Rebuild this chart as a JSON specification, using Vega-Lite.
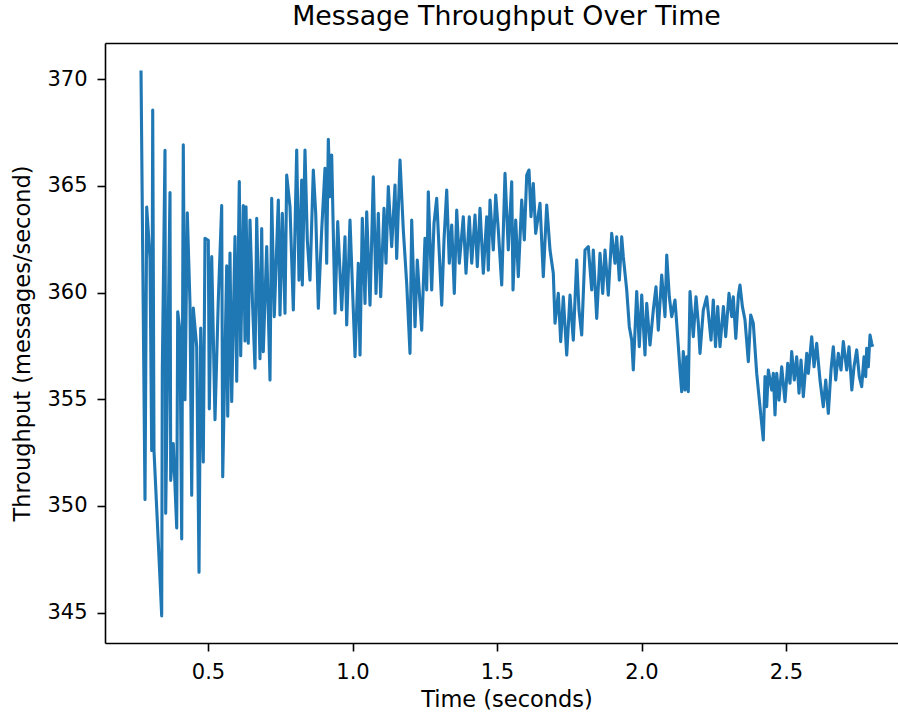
{
  "$schema": "https://vega.github.io/schema/vega-lite/v6.json",
  "width": 793,
  "height": 600,
  "autosize": {"type": "none"},
  "padding": {"left": 105, "top": 43, "right": 0, "bottom": 71},
  "background": "white",
  "config": {"view": {"stroke": null}, "font": "DejaVu Sans"},
  "title": {"text": "Message Throughput Over Time", "fontSize": 26.8, "font": "DejaVu Sans", "fontWeight": "normal", "color": "#000000", "baseline": "alphabetic", "offset": -9, "dx": 5},
  "data": {"values": [
    {"t":0.2682,"v":370.4},{"t":0.2820,"v":350.3},{"t":0.2879,"v":364.0},{"t":0.2993,"v":361.6},{"t":0.3052,"v":352.6},
    {"t":0.3087,"v":368.55},{"t":0.3131,"v":352.6},{"t":0.3280,"v":348.3},{"t":0.3398,"v":344.85},{"t":0.3419,"v":356.35},
    {"t":0.3512,"v":366.66},{"t":0.3536,"v":349.66},{"t":0.3685,"v":364.68},{"t":0.3709,"v":351.2},{"t":0.3799,"v":352.92},
    {"t":0.3917,"v":348.97},{"t":0.3952,"v":359.1},{"t":0.4031,"v":358.16},{"t":0.4090,"v":348.46},{"t":0.4145,"v":366.92},
    {"t":0.4204,"v":354.98},{"t":0.4284,"v":363.74},{"t":0.4377,"v":359.45},{"t":0.4436,"v":350.5},{"t":0.4491,"v":359.27},
    {"t":0.4609,"v":357.47},{"t":0.4689,"v":346.9},{"t":0.4747,"v":358.33},{"t":0.4837,"v":352.06},{"t":0.4896,"v":362.54},
    {"t":0.5010,"v":362.45},{"t":0.5045,"v":354.55},{"t":0.5128,"v":361.68},{"t":0.5242,"v":354.04},{"t":0.5356,"v":359.62},
    {"t":0.5474,"v":364.08},{"t":0.5509,"v":351.37},{"t":0.5647,"v":361.25},{"t":0.5682,"v":354.21},{"t":0.5761,"v":361.85},
    {"t":0.5820,"v":354.9},{"t":0.5934,"v":362.62},{"t":0.5993,"v":355.84},{"t":0.6083,"v":365.2},{"t":0.6131,"v":357.04},
    {"t":0.6221,"v":364.08},{"t":0.6280,"v":357.73},{"t":0.6315,"v":364.02},{"t":0.6394,"v":357.62},{"t":0.6453,"v":363.4},
    {"t":0.6540,"v":359.5},{"t":0.6626,"v":356.45},{"t":0.6685,"v":363.48},{"t":0.6747,"v":360.0},{"t":0.6799,"v":356.9},
    {"t":0.6858,"v":363.0},{"t":0.6913,"v":357.23},{"t":0.7031,"v":362.15},{"t":0.7145,"v":355.9},{"t":0.7204,"v":364.41},
    {"t":0.7294,"v":358.87},{"t":0.7433,"v":364.33},{"t":0.7491,"v":358.95},{"t":0.7571,"v":363.71},{"t":0.7664,"v":359.03},
    {"t":0.7723,"v":365.5},{"t":0.7837,"v":364.02},{"t":0.7952,"v":359.18},{"t":0.8069,"v":366.67},{"t":0.8149,"v":360.58},
    {"t":0.8242,"v":365.27},{"t":0.8263,"v":360.35},{"t":0.8356,"v":366.67},{"t":0.8436,"v":362.46},{"t":0.8529,"v":360.58},
    {"t":0.8644,"v":365.74},{"t":0.8727,"v":363.71},{"t":0.8817,"v":359.26},{"t":0.8934,"v":362.93},{"t":0.9048,"v":365.82},
    {"t":0.9107,"v":361.37},{"t":0.9163,"v":367.18},{"t":0.9221,"v":364.49},{"t":0.9280,"v":366.44},{"t":0.9394,"v":359.03},
    {"t":0.9488,"v":363.32},{"t":0.9626,"v":359.18},{"t":0.9740,"v":362.61},{"t":0.9799,"v":358.48},{"t":0.9913,"v":363.4},
    {"t":1.0087,"v":356.99},{"t":1.0201,"v":361.37},{"t":1.0260,"v":357.07},{"t":1.0339,"v":363.48},{"t":1.0433,"v":359.49},
    {"t":1.0491,"v":363.78},{"t":1.0606,"v":359.41},{"t":1.0720,"v":365.42},{"t":1.0813,"v":359.96},{"t":1.0893,"v":363.71},
    {"t":1.0976,"v":359.8},{"t":1.1090,"v":363.94},{"t":1.1159,"v":361.37},{"t":1.1239,"v":364.96},{"t":1.1356,"v":362.15},
    {"t":1.1471,"v":365.03},{"t":1.1529,"v":361.6},{"t":1.1644,"v":366.21},{"t":1.1758,"v":362.93},{"t":1.1875,"v":360.43},
    {"t":1.1990,"v":357.15},{"t":1.2048,"v":363.4},{"t":1.2163,"v":358.4},{"t":1.2242,"v":361.52},{"t":1.2394,"v":358.24},
    {"t":1.2509,"v":362.54},{"t":1.2567,"v":360.12},{"t":1.2623,"v":364.72},{"t":1.2740,"v":360.12},{"t":1.2820,"v":363.24},
    {"t":1.2913,"v":364.41},{"t":1.3087,"v":359.41},{"t":1.3166,"v":362.46},{"t":1.3260,"v":364.8},{"t":1.3349,"v":361.37},
    {"t":1.3433,"v":363.16},{"t":1.3522,"v":359.96},{"t":1.3606,"v":363.86},{"t":1.3696,"v":361.37},{"t":1.3834,"v":363.55},
    {"t":1.3927,"v":360.9},{"t":1.4042,"v":363.55},{"t":1.4125,"v":361.37},{"t":1.4239,"v":363.63},{"t":1.4318,"v":361.21},
    {"t":1.4412,"v":363.94},{"t":1.4526,"v":360.9},{"t":1.4644,"v":363.55},{"t":1.4699,"v":361.05},{"t":1.4758,"v":364.33},
    {"t":1.4872,"v":361.99},{"t":1.4955,"v":364.57},{"t":1.5045,"v":362.93},{"t":1.5163,"v":360.35},{"t":1.5277,"v":365.58},
    {"t":1.5391,"v":361.99},{"t":1.5509,"v":365.19},{"t":1.5554,"v":360.12},{"t":1.5647,"v":363.4},{"t":1.5737,"v":360.74},
    {"t":1.5855,"v":364.33},{"t":1.5945,"v":362.46},{"t":1.6028,"v":365.5},{"t":1.6107,"v":365.74},{"t":1.6176,"v":363.55},
    {"t":1.6256,"v":365.11},{"t":1.6339,"v":362.77},{"t":1.6488,"v":364.18},{"t":1.6602,"v":360.74},{"t":1.6720,"v":364.1},
    {"t":1.6834,"v":361.99},{"t":1.6948,"v":360.9},{"t":1.7007,"v":358.56},{"t":1.7121,"v":359.96},{"t":1.7204,"v":357.7},
    {"t":1.7294,"v":359.8},{"t":1.7412,"v":357.07},{"t":1.7526,"v":359.88},{"t":1.7640,"v":357.77},{"t":1.7758,"v":361.52},
    {"t":1.7837,"v":359.18},{"t":1.7931,"v":358.01},{"t":1.8045,"v":361.99},{"t":1.8159,"v":362.15},{"t":1.8277,"v":360.12},
    {"t":1.8332,"v":361.99},{"t":1.8450,"v":358.79},{"t":1.8564,"v":361.84},{"t":1.8657,"v":359.96},{"t":1.8737,"v":361.99},
    {"t":1.8851,"v":359.88},{"t":1.8969,"v":362.77},{"t":1.9083,"v":361.37},{"t":1.9142,"v":362.61},{"t":1.9232,"v":360.58},
    {"t":1.9315,"v":362.61},{"t":1.9370,"v":361.68},{"t":1.9488,"v":360.12},{"t":1.9578,"v":358.4},{"t":1.9661,"v":357.77},
    {"t":1.9716,"v":356.37},{"t":1.9834,"v":360.04},{"t":1.9924,"v":357.46},{"t":2.0007,"v":359.88},{"t":2.0121,"v":357.07},
    {"t":2.0180,"v":359.49},{"t":2.0294,"v":357.54},{"t":2.0408,"v":359.18},{"t":2.0502,"v":360.27},{"t":2.0581,"v":358.24},
    {"t":2.0699,"v":360.82},{"t":2.0813,"v":358.87},{"t":2.0872,"v":361.76},{"t":2.0962,"v":359.8},{"t":2.1045,"v":358.87},
    {"t":2.1159,"v":359.65},{"t":2.1239,"v":358.16},{"t":2.1332,"v":356.37},{"t":2.1391,"v":355.35},{"t":2.1446,"v":357.23},
    {"t":2.1505,"v":355.43},{"t":2.1564,"v":356.99},{"t":2.1619,"v":355.35},{"t":2.1678,"v":360.04},{"t":2.1792,"v":357.93},
    {"t":2.1886,"v":359.8},{"t":2.1965,"v":358.56},{"t":2.2024,"v":357.15},{"t":2.2138,"v":359.18},{"t":2.2256,"v":359.8},
    {"t":2.2405,"v":357.77},{"t":2.2484,"v":359.65},{"t":2.2561,"v":357.46},{"t":2.2638,"v":359.34},{"t":2.2716,"v":357.46},
    {"t":2.2834,"v":359.34},{"t":2.2913,"v":357.93},{"t":2.3028,"v":359.96},{"t":2.3121,"v":358.87},{"t":2.3176,"v":359.8},
    {"t":2.3263,"v":357.85},{"t":2.3352,"v":359.88},{"t":2.3408,"v":360.35},{"t":2.3491,"v":359.34},{"t":2.3581,"v":358.71},
    {"t":2.3696,"v":356.76},{"t":2.3779,"v":358.95},{"t":2.3868,"v":358.56},{"t":2.3986,"v":356.21},{"t":2.4100,"v":354.65},
    {"t":2.4215,"v":353.09},{"t":2.4273,"v":356.06},{"t":2.4332,"v":354.65},{"t":2.4388,"v":356.37},{"t":2.4505,"v":355.43},
    {"t":2.4561,"v":356.21},{"t":2.4619,"v":354.26},{"t":2.4678,"v":356.21},{"t":2.4758,"v":354.96},{"t":2.4851,"v":356.52},
    {"t":2.4965,"v":354.89},{"t":2.5059,"v":356.68},{"t":2.5138,"v":355.75},{"t":2.5197,"v":357.23},{"t":2.5287,"v":355.9},
    {"t":2.5370,"v":356.99},{"t":2.5450,"v":355.28},{"t":2.5519,"v":356.84},{"t":2.5599,"v":355.12},{"t":2.5718,"v":357.15},
    {"t":2.5772,"v":356.21},{"t":2.5889,"v":357.93},{"t":2.5970,"v":356.52},{"t":2.6062,"v":357.62},{"t":2.6176,"v":355.9},
    {"t":2.6291,"v":354.65},{"t":2.6374,"v":355.9},{"t":2.6464,"v":354.34},{"t":2.6557,"v":356.37},{"t":2.6637,"v":357.46},
    {"t":2.6720,"v":355.9},{"t":2.6810,"v":357.15},{"t":2.6903,"v":356.37},{"t":2.6983,"v":357.7},{"t":2.7100,"v":356.37},
    {"t":2.7180,"v":357.46},{"t":2.7277,"v":355.43},{"t":2.7353,"v":356.52},{"t":2.7446,"v":357.31},{"t":2.7536,"v":356.06},
    {"t":2.7619,"v":355.59},{"t":2.7699,"v":356.99},{"t":2.7758,"v":356.06},{"t":2.7792,"v":357.39},{"t":2.7848,"v":356.52},
    {"t":2.7907,"v":358.01},{"t":2.7965,"v":357.62},{"t":2.8000,"v":357.46}
  ]},
  "layer": [
    {
      "mark": {"type": "line", "color": "#1f77b4", "strokeWidth": 3.1, "strokeJoin": "round", "strokeCap": "butt"},
      "encoding": {
        "x": {"field": "t", "type": "quantitative",
          "scale": {"domain": [0.1436, 2.8875], "nice": false, "zero": false},
          "axis": {"values": [0.5, 1.0, 1.5, 2.0, 2.5], "format": ".1f", "title": "Time (seconds)", "grid": false,
            "domainColor": "#000000", "domainWidth": 1.6, "tickColor": "#000000", "tickWidth": 1.6, "tickSize": 8,
            "labelFontSize": 21, "labelFont": "DejaVu Sans", "labelColor": "#000000", "labelPadding": 10, "labelFlush": false, "labelOverlap": false,
            "titleFontSize": 22.5, "titleFont": "DejaVu Sans", "titleFontWeight": "normal", "titleColor": "#000000", "titlePadding": 6, "titleX": 401.5}},
        "y": {"field": "v", "type": "quantitative",
          "scale": {"domain": [343.58, 371.69], "nice": false, "zero": false},
          "axis": {"values": [345, 350, 355, 360, 365, 370], "format": "d", "title": "Throughput (messages/second)", "grid": false,
            "domainColor": "#000000", "domainWidth": 1.6, "tickColor": "#000000", "tickWidth": 1.6, "tickSize": 8,
            "labelFontSize": 21, "labelFont": "DejaVu Sans", "labelColor": "#000000", "labelPadding": 10, "labelFlush": false,
            "titleFontSize": 22.5, "titleFont": "DejaVu Sans", "titleFontWeight": "normal", "titleColor": "#000000", "titlePadding": 12.5}}
      }
    },
    {
      "mark": {"type": "line", "opacity": 0},
      "encoding": {
        "x": {"field": "t", "type": "quantitative",
          "scale": {"domain": [0.1436, 2.8875], "nice": false, "zero": false},
          "axis": {"orient": "top", "labels": false, "ticks": false, "grid": false, "title": null, "domainColor": "#000000", "domainWidth": 1.6}},
        "y": {"field": "v", "type": "quantitative"}
      }
    }
  ],
  "resolve": {"scale": {"x": "independent"}, "axis": {"x": "independent"}}
}
